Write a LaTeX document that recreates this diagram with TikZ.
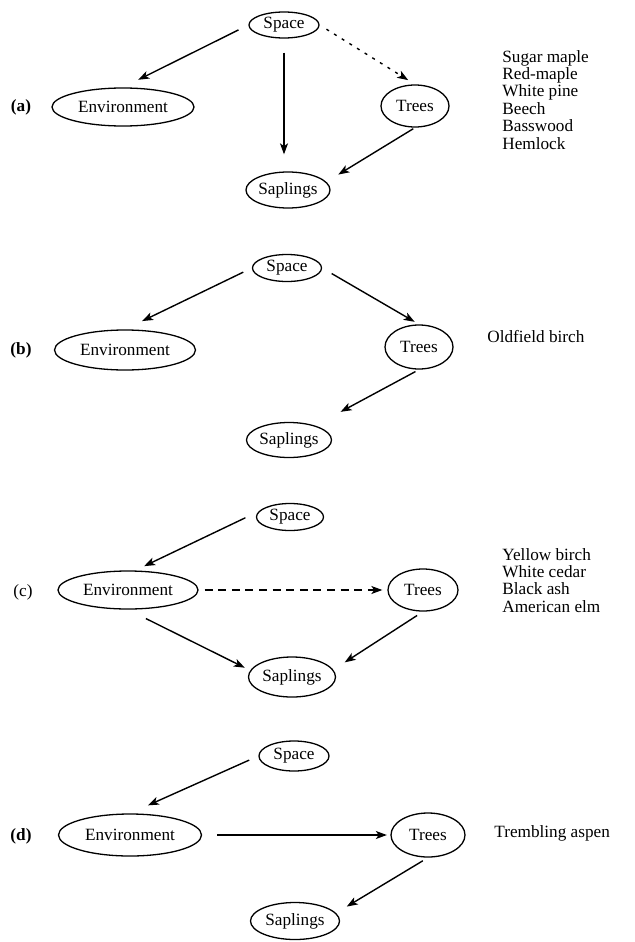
\documentclass[tikz,border=0pt]{standalone}
\usepackage{fontspec}
\setmainfont{Liberation Serif}
\usetikzlibrary{shapes.geometric,arrows.meta}

\newcommand*{\listx}{502}
\newcommand*{\rowsep}{17.4}

\begin{document}
\begin{tikzpicture}
[
	x=0.5pt,
	y=-0.5pt,
	blob/.style={ellipse,draw,line width=0.65pt,inner sep=0pt,font=\fontsize{8.6}{8.6}\selectfont},
	arr/.style={-{Stealth[length=5.5pt,width=4pt,inset=1.4pt]},line width=0.7pt},
	dotarr/.style={arr,dash pattern=on 1.5pt off 3pt},
	dasharr/.style={arr,dash pattern=on 4pt off 2.8pt},
	tag/.style={font=\fontsize{8.6}{8.6}\selectfont\bfseries},
	species/.style={anchor=base west,inner sep=0pt,font=\fontsize{8.6}{8.6}\selectfont}
]
	\useasboundingbox (0,0) rectangle (634,942);

	% panel (a)
	\node[tag] (tagA) at (21,107) {(a)};
	\node[blob,minimum width=35pt,minimum height=13pt] (spaceA) at (284,25) {Space};
	\node[blob,minimum width=71pt,minimum height=19pt] (envA) at (123,107) {Environment};
	\node[blob,minimum width=34pt,minimum height=21pt] (treesA) at (415,106) {Trees};
	\node[blob,minimum width=42pt,minimum height=18pt] (sapA) at (288,190) {Saplings};
	\foreach \name [count=\i from 0] in {Sugar maple,Red-maple,White pine,Beech,Basswood,Hemlock} {
		\node[species] (kindA\i) at (\listx,62+\rowsep*\i) {\name};
	}
	\draw[arr,shorten <=5.5pt,shorten >=8.5pt] (spaceA.west) -- (envA.north);
	\draw[arr,shorten <=7pt,shorten >=8.5pt] (spaceA.south) -- (spaceA.south |- sapA.north);
	\draw[dotarr,shorten <=4pt,shorten >=4pt] (spaceA.east) -- (treesA.north);
	\draw[arr,shorten <=1pt,shorten >=7pt] (treesA.south) -- (sapA.12);

	% panel (b)
	\node[tag] (tagB) at (21,350) {(b)};
	\node[blob,minimum width=34.5pt,minimum height=13.5pt] (spaceB) at (287,268) {Space};
	\node[blob,minimum width=70.5pt,minimum height=20pt] (envB) at (125,350) {Environment};
	\node[blob,minimum width=34pt,minimum height=22pt] (treesB) at (419,347) {Trees};
	\node[blob,minimum width=42.5pt,minimum height=17.5pt] (sapB) at (289,440) {Saplings};
	\node[species] (kindB) at (487,342) {Oldfield birch};
	\draw[arr,shorten <=4.75pt,shorten >=9.5pt] (spaceB.west) -- (envB.north);
	\draw[arr,shorten <=5.5pt,shorten >=2.5pt] (spaceB.east) -- (treesB.north);
	\draw[arr,shorten <=2pt,shorten >=14.5pt] (treesB.south) -- (sapB.29);

	% panel (c)
	\node[font=\fontsize{8.6}{8.6}\selectfont] (tagC) at (23,592) {(c)};
	\node[blob,minimum width=33.5pt,minimum height=13.5pt] (spaceC) at (290,517) {Space};
	\node[blob,minimum width=70pt,minimum height=19pt] (envC) at (128,590) {Environment};
	\node[blob,minimum width=35pt,minimum height=21pt] (treesC) at (423,590) {Trees};
	\node[blob,minimum width=43.5pt,minimum height=20pt] (sapC) at (292,677) {Saplings};
	\foreach \name [count=\i from 0] in {Yellow birch,White cedar,Black ash,American elm} {
		\node[species] (kindC\i) at (\listx,560+\rowsep*\i) {\name};
	}
	\draw[arr,shorten <=7.3pt,shorten >=5pt] (spaceC.170) -- (envC.70);
	\draw[dasharr,shorten <=3pt,shorten >=2.5pt] (envC.east) -- (treesC.west);
	\draw[arr,shorten <=10pt,shorten >=3pt] (envC.south) -- (sapC.171);
	\draw[arr,shorten <=3.5pt,shorten >=6.75pt] (treesC.south) -- (sapC.10);

	% panel (d)
	\node[tag] (tagD) at (21,836) {(d)};
	\node[blob,minimum width=35pt,minimum height=15pt] (spaceD) at (294,756) {Space};
	\node[blob,minimum width=71.5pt,minimum height=21pt] (envD) at (130,835) {Environment};
	\node[blob,minimum width=37pt,minimum height=22pt] (treesD) at (428,835) {Trees};
	\node[blob,minimum width=44.5pt,minimum height=18.5pt] (sapD) at (295,921) {Saplings};
	\node[species] (kindD) at (494,837) {Trembling aspen};
	\draw[arr,shorten <=5pt,shorten >=9.8pt] (spaceD.west) -- (envD.north);
	\draw[arr,shorten <=7.5pt,shorten >=1.75pt] (envD.east) -- (treesD.west);
	\draw[arr,shorten <=3pt,shorten >=6.25pt] (treesD.south) -- (sapD.11);

\end{tikzpicture}
\end{document}
